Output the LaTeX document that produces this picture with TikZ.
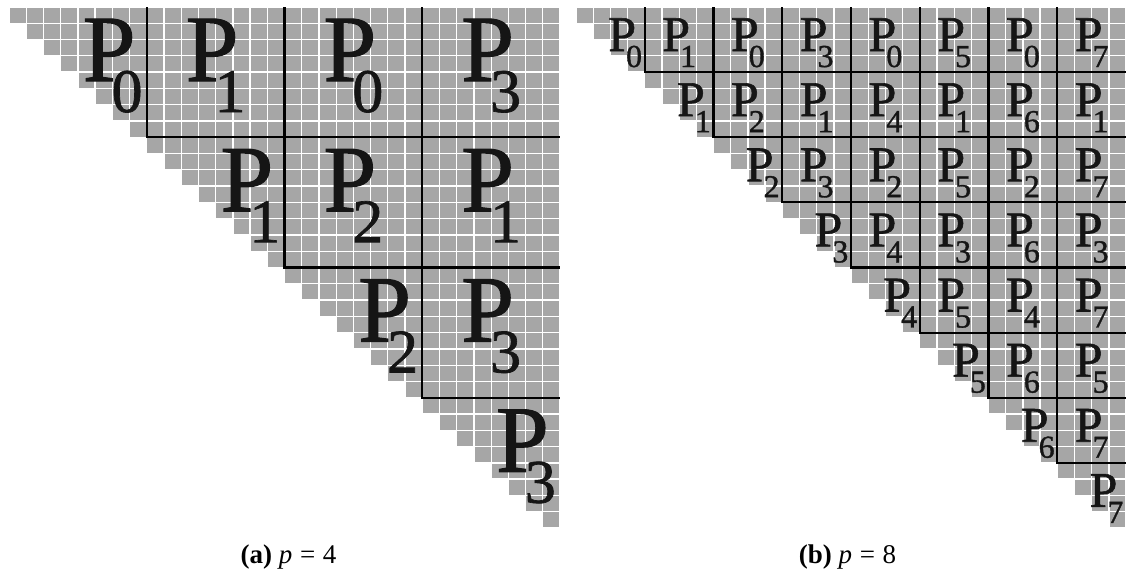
\documentclass[tikz,border=0pt]{standalone}
\usepackage{fontspec}
\setmainfont{Liberation Serif}
\newfontfamily\lblfont{Liberation Serif}[FakeBold=1.1]
\definecolor{cellgray}{HTML}{A6A6A6}
\definecolor{lblink}{HTML}{151515}
\tikzset{
  cell/.style={fill=cellgray},
  blockline/.style={line width=2.2pt, black},
  biglbl/.style={inner sep=0pt, text=lblink},
  caption/.style={inner sep=0pt, anchor=base, font=\fontsize{27}{27}\selectfont},
}
\newcommand{\plbl}[5]{\lblfont{\fontsize{#1}{#1}\selectfont P}\kern#3\raisebox{-#4}{\fontsize{#2}{#2}\selectfont #5}}
\begin{document}
\begin{tikzpicture}[x=1pt,y=-1pt]
\useasboundingbox[fill=white] (0,0) rectangle (1126,571);
% ---------- panel (a) ----------
\foreach \r in {0,...,31}{
  \foreach \c in {\r,...,31}{
    \fill[cell] ({9+\c*17.22+0.65},{7+\r*16.28+0.65}) rectangle ({9+(\c+1)*17.22-0.65},{7+(\r+1)*16.28-0.65});
  }
}
\foreach \k in {1,2,3}{
  \draw[blockline] ({9+\k*137.76},7) -- ({9+\k*137.76},{7+\k*130.24}) -- (560.04,{7+\k*130.24});
}
\foreach \i in {0,...,3}{
  \foreach \j in {\i,...,3}{
    \pgfmathtruncatemacro\d{mod(\j-\i,2)==1 ? \j : \i}
    \ifnum\i=\j
      \node[biglbl, anchor=base east] (a-\i-\j) at ({9+(\j+1)*137.76-4},{7+\i*130.24+74}) {\plbl{95}{62}{-24pt}{31pt}{\d}};
    \else
      \node[biglbl, anchor=base] (a-\i-\j) at ({9+(\j+0.5)*137.76},{7+\i*130.24+74}) {\plbl{95}{62}{-24pt}{31pt}{\d}};
    \fi
  }
}
% ---------- panel (b) ----------
\foreach \r in {0,...,31}{
  \foreach \c in {\r,...,31}{
    \fill[cell] ({576+\c*17.19+0.65},{7+\r*16.28+0.65}) rectangle ({576+(\c+1)*17.19-0.65},{7+(\r+1)*16.28-0.65});
  }
}
\foreach \k in {1,...,7}{
  \draw[blockline] ({576+\k*68.76},7) -- ({576+\k*68.76},{7+\k*65.12}) -- (1126,{7+\k*65.12});
}
\foreach \i in {0,...,7}{
  \foreach \j in {\i,...,7}{
    \pgfmathtruncatemacro\d{mod(\j-\i,2)==1 ? \j : \i}
    \ifnum\i=\j
      \node[biglbl, anchor=base east] (b-\i-\j) at ({576+(\j+1)*68.76-2.5},{7+\i*65.12+44}) {\plbl{50}{32}{-10pt}{16pt}{\d}};
    \else
      \node[biglbl, anchor=base] (b-\i-\j) at ({576+(\j+0.5)*68.76},{7+\i*65.12+44}) {\plbl{50}{32}{-10pt}{16pt}{\d}};
    \fi
  }
}
% ---------- captions ----------
\node[caption] (capa) at (288.5,563) {\textbf{(a)} \textit{p}\hspace{0.28em}=\hspace{0.28em}4};
\node[caption] (capb) at (847.5,563) {\textbf{(b)} \textit{p}\hspace{0.28em}=\hspace{0.28em}8};
\end{tikzpicture}
\end{document}
